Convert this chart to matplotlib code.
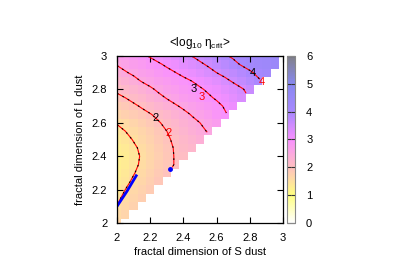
import numpy as np
import matplotlib
matplotlib.use('Agg')
import matplotlib.pyplot as plt
from matplotlib.colors import LinearSegmentedColormap

plt.rcParams['font.family'] = ['Liberation Sans', 'DejaVu Sans']
plt.rcParams['mathtext.fontset'] = 'custom'
plt.rcParams['mathtext.rm'] = 'Liberation Sans'
plt.rcParams['mathtext.it'] = 'Liberation Sans'

# grid of fractal dimensions (S dust on x, L dust on y)
ds = np.round(np.arange(2.0, 3.001, 0.05), 2)
dl = np.round(np.arange(2.0, 3.001, 0.05), 2)

# <log10 eta_crit>, one row per L-dust dimension (bottom to top), None = no data
N = None
eta = [
    [1.65] + [N] * 20,
    [1.58, 1.68] + [N] * 19,
    [1.51, 1.63, 1.73] + [N] * 18,
    [1.44, 1.57, 1.68, 1.77] + [N] * 17,
    [1.38, 1.50, 1.62, 1.72, 1.82] + [N] * 16,
    [1.33, 1.42, 1.55, 1.66, 1.77, 1.88] + [N] * 15,
    [1.28, 1.36, 1.48, 1.60, 1.72, 1.84, 1.96] + [N] * 14,
    [1.25, 1.32, 1.43, 1.55, 1.67, 1.79, 1.89, 2.02] + [N] * 13,
    [1.25, 1.31, 1.42, 1.53, 1.66, 1.78, 1.89, 2.02, 2.08] + [N] * 12,
    [1.28, 1.34, 1.45, 1.56, 1.68, 1.79, 1.90, 2.03, 2.12, 2.20] + [N] * 11,
    [1.34, 1.41, 1.52, 1.62, 1.72, 1.83, 1.95, 2.06, 2.16, 2.26, 2.36] + [N] * 10,
    [1.42, 1.50, 1.58, 1.67, 1.77, 1.88, 2.00, 2.12, 2.24, 2.35, 2.44, 2.52] + [N] * 9,
    [1.52, 1.59, 1.67, 1.76, 1.86, 1.97, 2.09, 2.20, 2.31, 2.41, 2.50, 2.62, 2.74] + [N] * 8,
    [1.68, 1.74, 1.81, 1.89, 1.98, 2.09, 2.20, 2.31, 2.41, 2.52, 2.63, 2.74, 2.86, 2.97] + [N] * 7,
    [1.80, 1.86, 1.94, 2.04, 2.15, 2.26, 2.36, 2.46, 2.56, 2.66, 2.75, 2.83, 2.92, 3.03, 3.14] + [N] * 6,
    [1.93, 2.00, 2.10, 2.20, 2.30, 2.41, 2.52, 2.62, 2.72, 2.80, 2.87, 2.95, 3.04, 3.14, 3.25, 3.38] + [N] * 5,
    [2.06, 2.15, 2.24, 2.33, 2.44, 2.56, 2.66, 2.74, 2.82, 2.89, 2.96, 3.05, 3.14, 3.24, 3.34, 3.46, 3.60] + [N] * 4,
    [2.22, 2.30, 2.40, 2.52, 2.62, 2.70, 2.77, 2.84, 2.92, 3.00, 3.09, 3.18, 3.28, 3.41, 3.54, 3.67, 3.80, 3.95] + [N] * 3,
    [2.38, 2.47, 2.56, 2.65, 2.73, 2.82, 2.91, 2.99, 3.08, 3.17, 3.27, 3.38, 3.50, 3.61, 3.72, 3.83, 3.95, 4.07, 4.18] + [N] * 2,
    [2.52, 2.61, 2.70, 2.78, 2.87, 2.96, 3.05, 3.14, 3.24, 3.34, 3.44, 3.55, 3.67, 3.79, 3.91, 4.03, 4.13, 4.22, 4.31, 4.40] + [N],
    [2.65, 2.74, 2.83, 2.93, 3.03, 3.12, 3.21, 3.31, 3.40, 3.50, 3.61, 3.72, 3.84, 3.96, 4.05, 4.13, 4.21, 4.29, 4.37, 4.45, N],
]

levels = [1.5, 2.0, 2.5, 3.0, 3.5, 4.0, 4.5]

# contour labels: (x, y, text)
black_labels = [(2.23, 2.63, '2'), (2.46, 2.80, '3'), (2.82, 2.90, '4')]
red_labels = [(2.31, 2.54, '2'), (2.51, 2.755, '3'), (2.875, 2.845, '4')]

# blue segment and end point
blue_x = [2.0, 2.03, 2.06, 2.09, 2.12]
blue_y = [2.10, 2.145, 2.19, 2.24, 2.29]
dot_x = [2.32]
dot_y = [2.325]

Z = np.ma.masked_invalid(np.array(eta, dtype=float))

cmap = LinearSegmentedColormap.from_list('pal', [
    (0 / 6, '#ffffff'),
    (1 / 6, '#ffff80'),
    (2 / 6, '#ffc0c0'),
    (3 / 6, '#f890ff'),
    (4 / 6, '#a888ff'),
    (5 / 6, '#8888f0'),
    (6 / 6, '#808088'),
])

fig = plt.figure(figsize=(4, 2.8), dpi=100)
ax = fig.add_axes([0.2925, 0.2036, 0.415, 0.5964])
cax = fig.add_axes([0.7175, 0.2036, 0.02, 0.5964])

pm = ax.pcolormesh(ds, dl, Z, shading='nearest', cmap=cmap, vmin=0, vmax=6)
ax.contour(ds, dl, Z, levels=levels, colors='red', linewidths=0.8)
ax.contour(ds, dl, Z, levels=levels, colors='black', linewidths=0.8,
           linestyles=[(0, (1.5, 4))])
ax.plot(blue_x, blue_y, color='blue', lw=2.0, solid_capstyle='butt')
ax.plot(dot_x, dot_y, 'o', color='blue', ms=2.5)

for x, y, t in black_labels:
    ax.text(x, y, t, color='black', fontsize=8, ha='center', va='center')
for x, y, t in red_labels:
    ax.text(x, y, t, color='red', fontsize=8, ha='center', va='center')

ax.set_xlim(2, 3)
ax.set_ylim(2, 3)
ticks = [2, 2.2, 2.4, 2.6, 2.8, 3]
ax.set_xticks(ticks)
ax.set_yticks(ticks)
ax.set_xticklabels(['2', '2.2', '2.4', '2.6', '2.8', '3'])
ax.set_yticklabels(['2', '2.2', '2.4', '2.6', '2.8', '3'])
ax.tick_params(direction='in', length=4, width=0.8, top=True, right=True,
               labelsize=8, pad=7)
for s in ax.spines.values():
    s.set_linewidth(0.9)
ax.set_xlabel('fractal dimension of S dust', fontsize=8, labelpad=3)
ax.set_ylabel('fractal dimension of L dust', fontsize=8, labelpad=5)
ax.set_title(r'<log$_{10}$ $\eta_{\rm crit}$>', fontsize=8.5, pad=7)

cb = fig.colorbar(pm, cax=cax, ticks=[0, 1, 2, 3, 4, 5, 6])
cb.outline.set_edgecolor('#888888')
cb.outline.set_linewidth(0.8)
cax.tick_params(direction='in', length=3, width=0.8, left=True, right=True,
                color='#333333', labelsize=8, pad=8)

fig.savefig('out.png', dpi=100)
